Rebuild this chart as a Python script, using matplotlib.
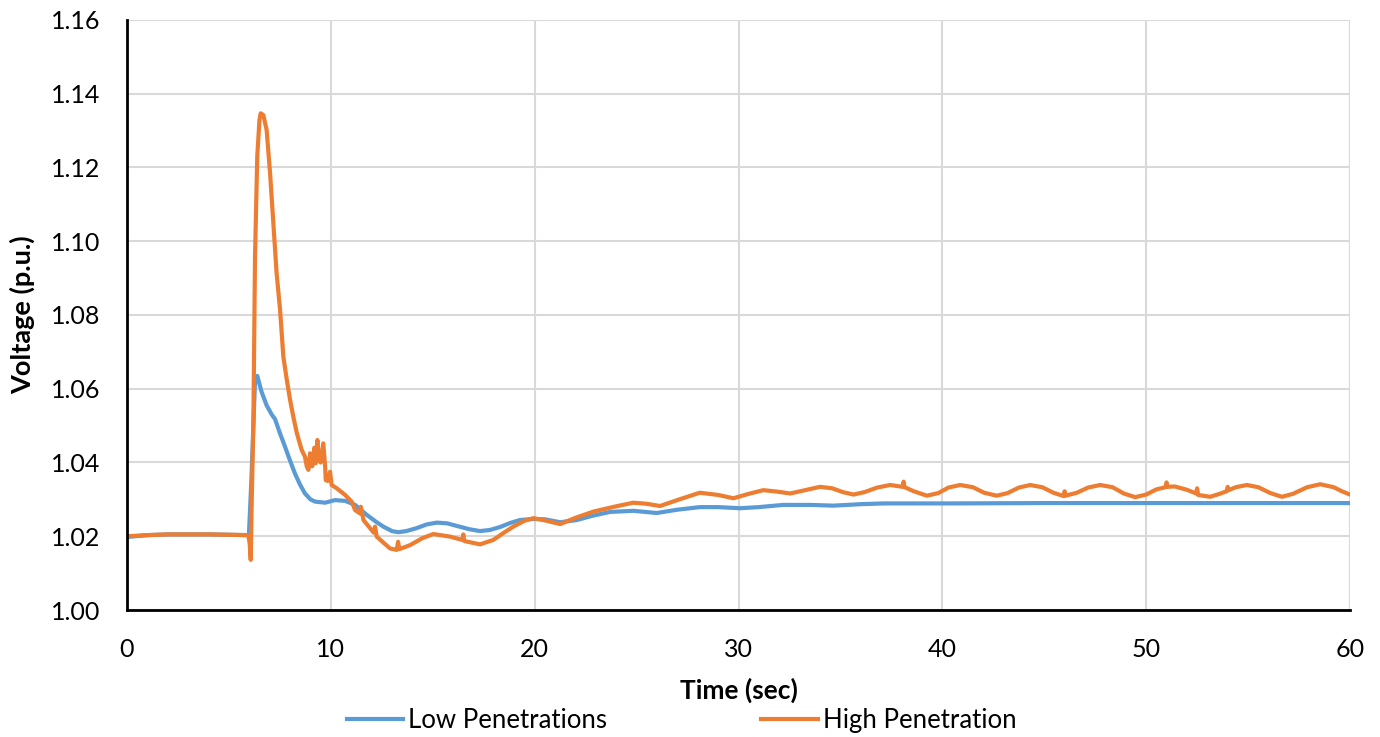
import matplotlib
matplotlib.use("Agg")
import matplotlib.pyplot as plt

# Bus voltage response, low penetration case
low_t = [0.0, 1.0, 2.0, 3.0, 4.0, 5.0, 5.98, 6.1, 6.28, 6.39, 6.6, 6.85, 7.1, 7.26, 7.5,
         7.75, 8.0, 8.24, 8.49, 8.73, 9.0, 9.22, 9.72, 10.2, 10.7, 11.19, 11.76, 12.25,
         12.58, 13.0, 13.31, 13.7, 14.21, 14.7, 15.2, 15.7, 16.18, 16.8, 17.32, 17.8,
         18.3, 18.8, 19.28, 19.94, 20.5, 21.25, 22.07, 22.8, 23.7, 24.84, 25.99, 27.0,
         28.1, 29.0, 30.08, 31.0, 32.2, 33.5, 34.66, 36.0, 37.1, 40.4, 45.0, 50.0, 55.0, 60.0]
low_v = [1.0198, 1.0203, 1.0205, 1.0205, 1.0205, 1.0204, 1.0203, 1.0350, 1.0620, 1.0635,
         1.0592, 1.0555, 1.0530, 1.0518, 1.0480, 1.0443, 1.0405, 1.0370, 1.0340, 1.0316,
         1.0300, 1.0294, 1.0291, 1.0298, 1.0296, 1.0285, 1.0258, 1.0238, 1.0226, 1.0214,
         1.0211, 1.0214, 1.0222, 1.0232, 1.0237, 1.0235, 1.0228, 1.0219, 1.0214, 1.0217,
         1.0225, 1.0236, 1.0244, 1.0247, 1.0246, 1.0238, 1.0244, 1.0255, 1.0266, 1.0269,
         1.0263, 1.0272, 1.0279, 1.0279, 1.0276, 1.0279, 1.0285, 1.0285, 1.0283, 1.0287,
         1.0289, 1.0289, 1.0290, 1.0290, 1.0290, 1.0290]

# Bus voltage response, high penetration case
high_t = [0.0, 1.0, 2.0, 4.0, 5.95, 6.02, 6.07, 6.12, 6.2, 6.28, 6.39, 6.5, 6.56, 6.69,
          6.85, 7.02, 7.18, 7.34, 7.51, 7.67, 7.84, 8.0, 8.16, 8.33, 8.57, 8.73, 8.82,
          8.9, 8.98, 9.09, 9.19, 9.26, 9.34, 9.42, 9.5, 9.63, 9.72, 9.75, 9.85, 9.96,
          10.04, 10.29, 10.7, 11.02, 11.19, 11.43, 11.47, 11.6, 12.1, 12.17, 12.25,
          12.9, 13.23, 13.3, 13.36, 13.89, 14.5, 15.03, 15.85, 16.45, 16.5, 16.55,
          17.32, 17.97, 18.5, 18.95, 19.5, 19.94, 20.5, 21.25, 22.0, 22.89, 23.9, 24.84,
          25.5, 26.15, 27.1, 28.1, 29.0, 29.75, 30.5, 31.22, 31.9, 32.54, 33.2, 34.0,
          34.6, 35.1, 35.64, 36.2, 36.8, 37.44, 38.05, 38.1, 38.15, 38.6, 39.24, 39.8,
          40.3, 40.87, 41.5, 42.05, 42.67, 43.2, 43.75, 44.31, 44.9, 45.45, 45.95,
          46.0, 46.05, 46.6, 47.15, 47.74, 48.35, 48.9, 49.46, 50.0, 50.5, 50.95,
          51.0, 51.05, 51.4, 52.0, 52.45, 52.5, 52.55, 53.14, 53.6, 53.95, 54.0, 54.05,
          54.4, 54.94, 55.5, 56.1, 56.66, 57.2, 57.9, 58.54, 59.2, 59.6, 60.0]
high_v = [1.0200, 1.0203, 1.0205, 1.0205, 1.0203, 1.0180, 1.0136, 1.0300, 1.0506, 1.0958,
          1.1230, 1.1330, 1.1347, 1.1342, 1.1302, 1.1184, 1.1049, 1.0913, 1.0814, 1.0687,
          1.0624, 1.0570, 1.0524, 1.0480, 1.0434, 1.0416, 1.0389, 1.0380, 1.0425, 1.0390,
          1.0440, 1.0398, 1.0461, 1.0407, 1.0400, 1.0452, 1.0389, 1.0352, 1.0350, 1.0375,
          1.0339, 1.0330, 1.0312, 1.0294, 1.0271, 1.0262, 1.0280, 1.0244, 1.0210, 1.0226,
          1.0199, 1.0167, 1.0163, 1.0185, 1.0165, 1.0176, 1.0195, 1.0206, 1.0199, 1.0190,
          1.0205, 1.0187, 1.0178, 1.0190, 1.0210, 1.0226, 1.0242, 1.0249, 1.0243, 1.0233,
          1.0250, 1.0267, 1.0280, 1.0291, 1.0288, 1.0282, 1.0300, 1.0318, 1.0312, 1.0303,
          1.0315, 1.0325, 1.0321, 1.0316, 1.0324, 1.0334, 1.0330, 1.0320, 1.0313, 1.0320,
          1.0332, 1.0339, 1.0334, 1.0348, 1.0333, 1.0322, 1.0310, 1.0317, 1.0332, 1.0339,
          1.0333, 1.0318, 1.0310, 1.0317, 1.0332, 1.0339, 1.0333, 1.0318, 1.0309, 1.0322,
          1.0310, 1.0318, 1.0332, 1.0339, 1.0333, 1.0316, 1.0306, 1.0313, 1.0327, 1.0333,
          1.0346, 1.0334, 1.0335, 1.0326, 1.0316, 1.0330, 1.0312, 1.0307, 1.0315, 1.0322,
          1.0334, 1.0325, 1.0333, 1.0339, 1.0333, 1.0317, 1.0307, 1.0315, 1.0333, 1.0341,
          1.0333, 1.0322, 1.0313]

x_ticks = [0, 10, 20, 30, 40, 50, 60]
y_ticks = [1.00, 1.02, 1.04, 1.06, 1.08, 1.10, 1.12, 1.14, 1.16]
series_names = ["Low Penetrations", "High Penetration"]
colors = ["#5B9BD5", "#ED7D31"]

plt.rcParams['font.family'] = ['Lato', 'DejaVu Sans']

fig = plt.figure(figsize=(13.8, 7.37), dpi=100)
ax = fig.add_axes([127 / 1380, 1 - 610 / 737, (1350 - 127) / 1380, (610 - 20) / 737])

ax.plot(low_t, low_v, color=colors[0], lw=3.0, label=series_names[0],
        solid_joinstyle='round', zorder=3)
ax.plot(high_t, high_v, color=colors[1], lw=3.0, label=series_names[1],
        solid_joinstyle='round', zorder=4)

ax.set_xlim(0, 60)
ax.set_ylim(1.00, 1.16)
ax.set_xticks(x_ticks)
ax.set_yticks(y_ticks)
ax.set_xticklabels([str(v) for v in x_ticks])
ax.set_yticklabels([f"{v:.2f}" for v in y_ticks])
ax.tick_params(axis='both', length=0, labelsize=18, colors='black')
ax.tick_params(axis='x', pad=20)
ax.tick_params(axis='y', pad=19)

ax.grid(True, color='#D9D9D9', lw=1.5)
ax.set_axisbelow(True)
for side in ('top', 'right'):
    ax.spines[side].set_visible(False)
for side in ('left', 'bottom'):
    ax.spines[side].set_color('black')
    ax.spines[side].set_linewidth(2.0)
    ax.spines[side].set_zorder(5)

ax.set_xlabel("Time (sec)", fontsize=19, fontweight='bold', va='center')
ax.xaxis.set_label_coords(0.5, (610 - 690) / 590)
ax.set_ylabel("Voltage (p.u.)", fontsize=19.5, fontweight='bold', va='center')
ax.yaxis.set_label_coords((22 - 127) / 1223, 0.5)

fig.legend(loc='center', bbox_to_anchor=(0.494, 0.023), ncol=2, frameon=False,
           fontsize=18.5, handlelength=2.2, handletextpad=0.2, columnspacing=6.0)

fig.savefig("out.png", dpi=100)
